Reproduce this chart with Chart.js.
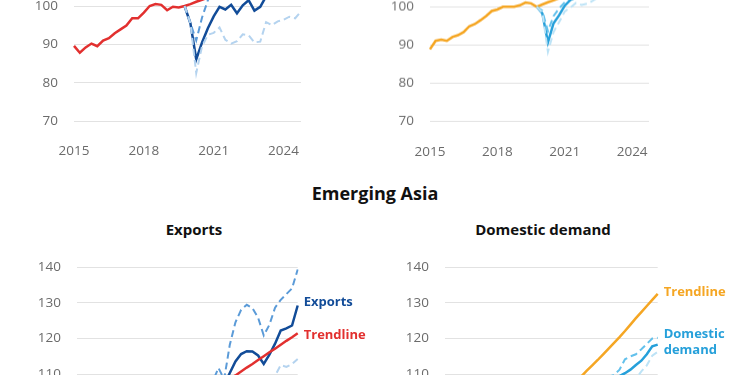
<!DOCTYPE html>
<html>
<head>
<meta charset="utf-8">
<script src="https://cdn.jsdelivr.net/npm/chart.js@4.4.1/dist/chart.umd.min.js"></script>
<style>
  html, body { margin: 0; padding: 0; background: #fff; }
  body { width: 750px; height: 375px; overflow: hidden; position: relative; font-family: "Open Sans", sans-serif; }
  .box { position: absolute; }
  .title { position: absolute; font-weight: 700; color: #111; white-space: nowrap; transform: translate(-50%, -50%); }
</style>
</head>
<body>
<div class="title" style="left:375px; top:193px; font-size:18px;">Emerging Asia</div>
<div class="title" style="left:194px; top:229px; font-size:15px;">Exports</div>
<div class="title" style="left:543px; top:229px; font-size:15px;">Domestic demand</div>

<div class="box" style="left:0px; top:-139px; width:321px; height:300px;"><canvas id="topLeft"></canvas></div>
<div class="box" style="left:375px; top:-137.6px; width:294px; height:298.6px;"><canvas id="topRight"></canvas></div>
<div class="box" style="left:0px; top:237.3px; width:370px; height:284px;"><canvas id="asiaExports"></canvas></div>
<div class="box" style="left:375px; top:236.7px; width:375px; height:284.6px;"><canvas id="asiaDemand"></canvas></div>

<script>
// quarters shown on every panel (index: 2019Q4 = 100)
const quarters = [
  '2015Q1','2015Q2','2015Q3','2015Q4','2016Q1','2016Q2','2016Q3','2016Q4',
  '2017Q1','2017Q2','2017Q3','2017Q4','2018Q1','2018Q2','2018Q3','2018Q4',
  '2019Q1','2019Q2','2019Q3','2019Q4','2020Q1','2020Q2','2020Q3','2020Q4',
  '2021Q1','2021Q2','2021Q3','2021Q4','2022Q1','2022Q2','2022Q3','2022Q4',
  '2023Q1','2023Q2','2023Q3','2023Q4','2024Q1','2024Q2','2024Q3','2024Q4'
];
const tickYears = ['2015', '2018', '2021', '2024'];
const N = null;

// top left panel
const tlTrend = [89.6, 87.8, 89.2, 90.2, 89.5, 91.0, 91.6, 92.9, 93.9, 94.9, 96.8, 96.8, 98.3, 100.0, 100.5, 100.3, 98.9, 99.8, 99.6, 100.0,
  100.5, 101.1, 101.6, 102.2, 102.7, 103.3, 103.8, 104.4, 104.9, 105.5, 106.0, 106.6, 107.1, 107.7, 108.2, 108.8, 109.3, 109.9, 110.4, 111.0];
const tlActual = [N, N, N, N, N, N, N, N, N, N, N, N, N, N, N, N, N, N, N, 100.0,
  95.5, 86.1, 90.5, 94.2, 97.3, 99.8, 99.1, 100.3, 98.1, 100.2, 101.5, 98.8, 99.8, 102.5, 103.5, 104.0, 105.0, 105.5, 106.0, 107.0];
const tlUpper = [N, N, N, N, N, N, N, N, N, N, N, N, N, N, N, N, N, N, N, 100.0,
  95.5, 91.0, 97.0, 101.5, 104.5, 106.0, 107.0, 108.0, 108.5, 110.0, 111.0, 110.0, 110.5, 112.0, 113.0, 114.0, 115.0, 115.5, 116.0, 117.0];
const tlLower = [N, N, N, N, N, N, N, N, N, N, N, N, N, N, N, N, N, N, N, 100.0,
  95.5, 82.5, 89.5, 92.5, 93.0, 94.4, 91.2, 90.2, 90.8, 92.6, 92.4, 90.5, 90.7, 95.8, 95.0, 96.0, 96.4, 97.2, 96.8, 98.6];

// top right panel
const trTrend = [88.9, 91.1, 91.4, 91.1, 92.1, 92.6, 93.4, 94.9, 95.5, 96.5, 97.6, 98.9, 99.3, 100.0, 100.0, 100.0, 100.4, 101.1, 100.9, 100.0,
  100.6, 101.2, 101.7, 102.3, 102.9, 103.4, 104.0, 104.6, 105.1, 105.7, 106.3, 106.8, 107.4, 108.0, 108.5, 109.1, 109.7, 110.2, 110.8, 111.4];
const trActual = [N, N, N, N, N, N, N, N, N, N, N, N, N, N, N, N, N, N, N, 100.0,
  98.3, 90.7, 95.7, 97.8, 100.3, 101.8, 102.5, 103.0, 103.5, 104.0, 104.6, 105.0, 105.5, 106.0, 106.4, 106.8, 107.2, 107.6, 108.0, 108.3];
const trUpper = [N, N, N, N, N, N, N, N, N, N, N, N, N, N, N, N, N, N, N, 100.0,
  99.0, 93.6, 97.6, 99.6, 101.2, 102.5, 103.5, 104.2, 104.8, 105.4, 106.0, 106.5, 107.0, 107.6, 108.0, 108.5, 109.0, 109.4, 109.8, 110.2];
const trLower = [N, N, N, N, N, N, N, N, N, N, N, N, N, N, N, N, N, N, N, 100.0,
  98.5, 88.2, 93.4, 96.0, 98.8, 99.8, 101.0, 100.5, 100.8, 101.6, 102.5, 103.0, 103.4, 103.9, 104.3, 104.8, 105.2, 105.6, 106.0, 106.4];

// Emerging Asia: exports
const exTrend = [85.0, 84.0, 85.2, 86.5, 86.0, 87.5, 88.8, 90.5, 91.5, 93.0, 94.5, 95.5, 96.8, 98.0, 99.2, 99.5, 98.8, 99.3, 99.6, 100.0,
  101.1, 102.1, 103.2, 104.3, 105.4, 106.4, 107.5, 108.6, 109.6, 110.7, 111.8, 112.8, 113.9, 115.0, 116.1, 117.1, 118.2, 119.3, 120.3, 121.4];
const exActual = [N, N, N, N, N, N, N, N, N, N, N, N, N, N, N, N, N, N, N, 100.0,
  96.0, 90.0, 97.0, 103.0, 106.0, 108.5, 107.0, 110.3, 113.5, 115.6, 116.4, 116.3, 115.2, 112.8, 115.4, 118.5, 122.2, 122.8, 123.6, 129.2];
const exUpper = [N, N, N, N, N, N, N, N, N, N, N, N, N, N, N, N, N, N, N, 100.0,
  97.0, 93.0, 100.0, 105.0, 108.0, 111.7, 108.5, 118.2, 124.5, 128.0, 129.4, 128.5, 125.8, 120.8, 123.8, 128.6, 130.8, 132.4, 134.0, 139.3];
const exLower = [N, N, N, N, N, N, N, N, N, N, N, N, N, N, N, N, N, N, N, 100.0,
  95.0, 85.0, 92.0, 97.0, 99.0, 101.0, 99.0, 103.0, 105.0, 106.0, 106.5, 106.0, 105.0, 104.0, 107.0, 109.5, 112.5, 112.0, 112.8, 114.2];

// Emerging Asia: domestic demand
const ddTrend = [76.5, 77.8, 79.2, 80.5, 81.8, 83.0, 84.3, 85.6, 87.0, 88.3, 89.6, 90.8, 92.0, 93.3, 94.5, 95.7, 96.9, 98.0, 99.0, 100.0,
  101.5, 103.0, 104.6, 106.1, 107.8, 109.4, 111.0, 112.5, 114.0, 115.6, 117.2, 118.8, 120.4, 122.1, 123.9, 125.7, 127.4, 129.1, 130.8, 132.5];
const ddActual = [N, N, N, N, N, N, N, N, N, N, N, N, N, N, N, N, N, N, N, 100.0,
  97.0, 92.0, 96.0, 99.0, 101.0, 102.5, 103.5, 104.5, 105.5, 106.5, 107.5, 108.5, 109.5, 110.3, 111.3, 112.6, 113.8, 115.6, 117.8, 118.3];
const ddUpper = [N, N, N, N, N, N, N, N, N, N, N, N, N, N, N, N, N, N, N, 100.0,
  97.5, 94.0, 98.0, 101.0, 103.0, 104.5, 105.5, 106.5, 107.5, 108.5, 109.3, 109.8, 111.3, 114.2, 115.0, 115.6, 117.0, 118.5, 120.0, 120.2];
const ddLower = [N, N, N, N, N, N, N, N, N, N, N, N, N, N, N, N, N, N, N, 100.0,
  96.0, 89.0, 93.0, 96.0, 98.0, 99.5, 100.5, 101.5, 102.5, 103.5, 104.5, 105.5, 106.3, 107.0, 107.8, 108.7, 110.8, 112.5, 115.2, 116.3];

const FONT = '"Open Sans", sans-serif';

// writes the series names next to the last point of a line
const endLabels = {
  id: 'endLabels',
  afterDatasetsDraw(chart, args, opts) {
    const items = opts.items || [];
    const ctx = chart.ctx;
    items.forEach(item => {
      const ds = chart.data.datasets[item.dataset];
      const last = ds.data[ds.data.length - 1];
      const y = chart.scales.y.getPixelForValue(last) + (item.dy || 0);
      ctx.save();
      ctx.font = 'bold 13px ' + FONT;
      ctx.fillStyle = item.color || ds.borderColor;
      ctx.textBaseline = 'middle';
      ctx.textAlign = 'left';
      item.lines.forEach((t, i) => ctx.fillText(t, chart.chartArea.right + 6, y + i * 15.5));
      ctx.restore();
    });
  }
};

function solid(data, color) {
  return { data: data, borderColor: color, borderWidth: 2.5, pointRadius: 0, tension: 0, fill: false };
}
function dashed(data, color) {
  return { data: data, borderColor: color, borderWidth: 2, borderDash: [7, 4], pointRadius: 0, tension: 0, fill: false };
}

function makeChart(id, datasets, cfg) {
  const ctx = document.getElementById(id).getContext('2d');
  return new Chart(ctx, {
    type: 'line',
    data: { labels: quarters, datasets: datasets },
    plugins: [endLabels],
    options: {
      responsive: true,
      maintainAspectRatio: false,
      animation: false,
      devicePixelRatio: 1,
      // top padding is larger than the y scale's own padding so the plot top is predictable
      layout: { padding: { top: 30, right: cfg.padRight, bottom: 0, left: 0 } },
      plugins: {
        legend: { display: false },
        tooltip: { enabled: false },
        endLabels: { items: cfg.labels || [] }
      },
      scales: {
        x: {
          grid: { display: false },
          border: { display: false },
          afterFit: s => { s.height = 40; },
          ticks: {
            autoSkip: false,
            maxRotation: 0,
            padding: 14,
            color: '#6b6b6b',
            font: { family: FONT, size: 13.5 },
            callback: function (val) {
              const l = this.getLabelForValue(val);
              return l.endsWith('Q1') && tickYears.includes(l.slice(0, 4)) ? l.slice(0, 4) : '';
            }
          }
        },
        y: {
          min: cfg.min,
          max: cfg.max,
          afterFit: s => { s.width = cfg.axisWidth; },
          border: { display: false },
          grid: { color: '#e2e2e2', lineWidth: 1, drawTicks: false },
          ticks: {
            stepSize: 10,
            padding: 16,
            color: '#6b6b6b',
            font: { family: FONT, size: 13.5 }
          }
        }
      }
    }
  });
}

makeChart('topLeft', [
  dashed(tlLower, '#b4d3ef'),
  dashed(tlUpper, '#5b9bd8'),
  solid(tlTrend, '#e2302f'),
  solid(tlActual, '#124c98')
], { min: 70, max: 130, axisWidth: 74, padRight: 20 });

makeChart('topRight', [
  dashed(trLower, '#bde3f6'),
  dashed(trUpper, '#63c1ec'),
  solid(trTrend, '#f5a623'),
  solid(trActual, '#26a0da')
], { min: 70, max: 130, axisWidth: 55, padRight: 20 });

makeChart('asiaExports', [
  dashed(exLower, '#b4d3ef'),
  dashed(exUpper, '#5b9bd8'),
  solid(exTrend, '#e2302f'),
  solid(exActual, '#124c98')
], {
  min: 80, max: 140, axisWidth: 77, padRight: 72.3,
  labels: [
    { dataset: 3, lines: ['Exports'], dy: -3 },
    { dataset: 2, lines: ['Trendline'], dy: 2 }
  ]
});

makeChart('asiaDemand', [
  dashed(ddLower, '#bde3f6'),
  dashed(ddUpper, '#63c1ec'),
  solid(ddTrend, '#f5a623'),
  solid(ddActual, '#26a0da')
], {
  min: 80, max: 140, axisWidth: 70, padRight: 92.3,
  labels: [
    { dataset: 2, lines: ['Trendline'], dy: -2 },
    { dataset: 3, lines: ['Domestic', 'demand'], dy: -10 }
  ]
});
</script>
</body>
</html>
